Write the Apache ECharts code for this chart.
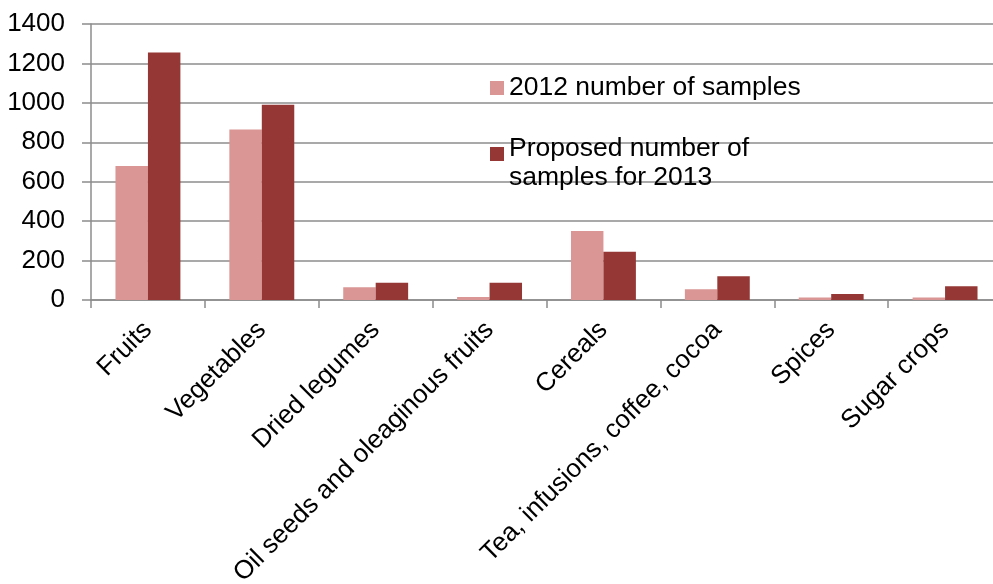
<!DOCTYPE html>
<html>
<head>
<meta charset="utf-8">
<script src="https://cdn.jsdelivr.net/npm/echarts@6/dist/echarts.min.js"></script>
<style>
  html, body { margin: 0; padding: 0; background: #fff; }
  #chart { width: 993px; height: 584px; }
</style>
</head>
<body>
<div id="chart"></div>
<script>
// Pesticide residue monitoring: samples per commodity group
const categories = [
  'Fruits', 'Vegetables', 'Dried legumes', 'Oil seeds and oleaginous fruits',
  'Cereals', 'Tea, infusions, coffee, cocoa', 'Spices', 'Sugar crops'
];
const samples2012 = [680, 865, 65, 15, 350, 55, 13, 13];
const proposed2013 = [1255, 990, 88, 88, 245, 120, 30, 70];
const yTicks = { min: 0, max: 1400, interval: 200 };

const name2012 = '2012 number of samples';
const name2013 = 'Proposed number of\nsamples for 2013';

const FONT = 'Liberation Sans, Arial, sans-serif';
const GRID_GRAY = '#8c8c8c';
const FS = 26;
const LEGEND_FS = 26.5;

const chart = echarts.init(document.getElementById('chart'));
chart.setOption({
  animation: false,
  textStyle: { fontFamily: FONT },
  grid: {
    left: 91, top: 24, width: 911, height: 276,
    containLabel: false,
    outerBoundsMode: 'none'
  },
  legend: {
    orient: 'vertical',
    left: 490,
    top: 72,
    padding: 0,
    itemGap: 10,
    itemWidth: 14,
    itemHeight: 14,
    icon: 'rect',
    data: [name2012, name2013],
    // two-line entry keeps its marker beside the first line
    formatter: function (name) {
      if (name === name2013) {
        const lines = name.split('\n');
        return '{first|' + lines[0] + '}\n{second|' + lines[1] + '}';
      }
      return name;
    },
    textStyle: {
      fontFamily: FONT, fontSize: LEGEND_FS, color: '#000', lineHeight: 32,
      rich: {
        first: { fontFamily: FONT, fontSize: LEGEND_FS, color: '#000', lineHeight: 48, verticalAlign: 'bottom' },
        second: { fontFamily: FONT, fontSize: LEGEND_FS, color: '#000', lineHeight: 32 }
      }
    }
  },
  xAxis: {
    type: 'category',
    data: categories,
    axisLine: { lineStyle: { color: GRID_GRAY, width: 1.5 } },
    axisTick: { show: true, length: 8, lineStyle: { color: GRID_GRAY, width: 1.5 } },
    axisLabel: {
      interval: 0,
      rotate: 45,
      margin: 26,
      fontFamily: FONT,
      fontSize: FS,
      color: '#000'
    }
  },
  yAxis: {
    type: 'value',
    min: yTicks.min,
    max: yTicks.max,
    interval: yTicks.interval,
    axisLine: { show: true, lineStyle: { color: GRID_GRAY, width: 1.5 } },
    axisTick: { show: true, length: 9, inside: false, lineStyle: { color: GRID_GRAY, width: 1.5 } },
    axisLabel: {
      margin: 26,
      fontFamily: FONT,
      fontSize: FS,
      color: '#000',
      formatter: function (v) { return String(v); }
    },
    splitLine: { show: true, lineStyle: { color: GRID_GRAY, width: 1.5 } }
  },
  series: [
    {
      name: name2012,
      type: 'bar',
      data: samples2012,
      barGap: '0%',
      barCategoryGap: '43%',
      itemStyle: { color: '#d99694' }
    },
    {
      name: name2013,
      type: 'bar',
      data: proposed2013,
      barGap: '0%',
      barCategoryGap: '43%',
      itemStyle: { color: '#953735' }
    }
  ]
});
</script>
</body>
</html>
